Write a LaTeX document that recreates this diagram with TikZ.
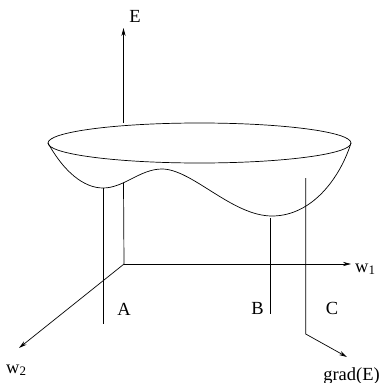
\documentclass[tikz,border=0pt]{standalone}
\usepackage{fontspec}
\setmainfont{Liberation Serif}
\usetikzlibrary{arrows.meta}
\begin{document}
\begin{tikzpicture}[x=1pt,y=-1pt,
  ln/.style={line width=0.7pt},
  arr/.style={ln,-{Stealth[length=8pt,width=4.2pt]}},
  lbl/.style={font=\fontsize{18.5}{20}\selectfont,inner sep=0pt}]
\useasboundingbox (0,0) rectangle (382,383);
% coordinates
\coordinate (O) at (124,264);
\coordinate (Etop) at (123.5,28);
\coordinate (Ebase) at (123.5,123);
\coordinate (Ecurve) at (123.5,183);
\coordinate (W1) at (351,264);
\coordinate (W2) at (19,348);
\coordinate (Amin) at (103,188);
\coordinate (Aend) at (103,324);
\coordinate (Bmin) at (270,218);
\coordinate (Bend) at (270,314);
\coordinate (Ctop) at (305.7,178);
\coordinate (Ccorner) at (305.7,334);
\coordinate (Cend) at (347,357);
% bowl rim
\draw[ln] (199.5,143) ellipse [x radius=151.5, y radius=20];
% surface
\draw[ln] (48,143) .. controls (64,172) and (84,188) .. (103,188)
  .. controls (124,188) and (140,169) .. (162,169)
  .. controls (192,169) and (232,216) .. (272,216)
  .. controls (312,216) and (340,178) .. (351,143);
% axes
\draw[arr] (Ebase) -- (Etop);
\draw[ln] (Ecurve) -- (O);
\draw[arr] (O) -- (W1);
\draw[arr] (O) -- (W2);
% verticals
\draw[ln] (Amin) -- (Aend);
\draw[ln] (Bmin) -- (Bend);
\draw[arr] (Ctop) -- (Ccorner) -- (Cend);
% labels
\node[lbl] (lE) at (135,16) {E};
\node[lbl] (lA) at (124,309) {A};
\node[lbl] (lB) at (257.5,308.5) {B};
\node[lbl] (lC) at (332,308.5) {C};
\node[lbl,anchor=base west] (lw1) at (355,272) {w\textsubscript{1}};
\node[lbl,anchor=base west] (lw2) at (6,373) {w\textsubscript{2}};
\node[lbl,anchor=base] (lg) at (351.5,380) {grad(E)};
\end{tikzpicture}
\end{document}
